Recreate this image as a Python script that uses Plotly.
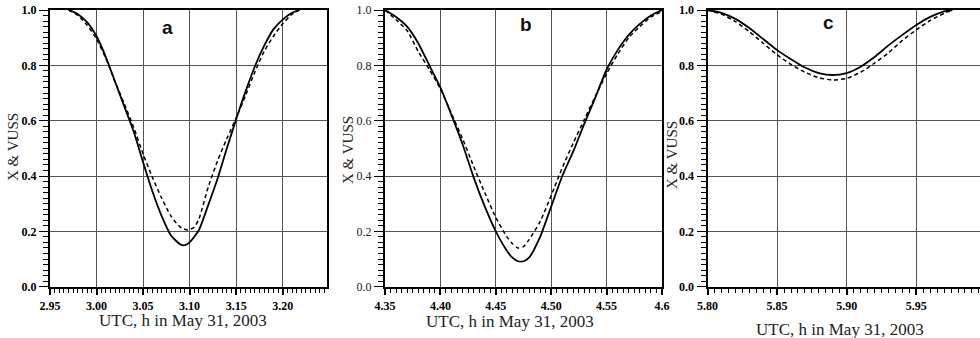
import plotly.graph_objects as go

# ---- data ----
a_x_solid = [2.970, 2.980, 2.990, 3.000, 3.010, 3.020, 3.030, 3.040, 3.050, 3.060, 3.070, 3.080,
             3.090, 3.095, 3.100, 3.110, 3.120, 3.130, 3.140, 3.150, 3.160, 3.170, 3.180, 3.190,
             3.200, 3.210, 3.218]
a_y_solid = [1.000, 0.985, 0.955, 0.905, 0.830, 0.740, 0.650, 0.560, 0.450, 0.345, 0.255, 0.185,
             0.153, 0.150, 0.160, 0.205, 0.295, 0.390, 0.500, 0.605, 0.705, 0.795, 0.870, 0.930,
             0.965, 0.990, 1.000]
a_x_dash = [2.970, 2.980, 2.990, 3.000, 3.010, 3.020, 3.030, 3.040, 3.050, 3.060, 3.070, 3.080,
            3.090, 3.098, 3.105, 3.110, 3.120, 3.130, 3.140, 3.150, 3.160, 3.170, 3.180, 3.190,
            3.200, 3.210, 3.218]
a_y_dash = [1.000, 0.980, 0.945, 0.895, 0.825, 0.740, 0.660, 0.575, 0.480, 0.395, 0.320, 0.255,
            0.215, 0.205, 0.215, 0.245, 0.360, 0.455, 0.535, 0.610, 0.690, 0.775, 0.850, 0.905,
            0.950, 0.985, 1.000]

b_x_solid = [4.350, 4.360, 4.370, 4.380, 4.390, 4.400, 4.410, 4.420, 4.430, 4.440, 4.450, 4.460,
             4.465, 4.470, 4.475, 4.480, 4.490, 4.500, 4.510, 4.520, 4.530, 4.540, 4.550, 4.560,
             4.570, 4.580, 4.590, 4.600]
b_y_solid = [1.000, 0.975, 0.940, 0.880, 0.800, 0.720, 0.620, 0.515, 0.395, 0.290, 0.200, 0.130,
             0.105, 0.092, 0.092, 0.105, 0.180, 0.290, 0.400, 0.490, 0.590, 0.685, 0.785, 0.855,
             0.910, 0.950, 0.980, 1.000]
b_x_dash = [4.350, 4.360, 4.370, 4.380, 4.390, 4.400, 4.410, 4.420, 4.430, 4.440, 4.450, 4.460,
            4.465, 4.470, 4.475, 4.480, 4.490, 4.500, 4.510, 4.520, 4.530, 4.540, 4.550, 4.560,
            4.570, 4.580, 4.590, 4.600]
b_y_dash = [1.000, 0.965, 0.925, 0.850, 0.785, 0.715, 0.625, 0.535, 0.435, 0.340, 0.250, 0.180,
            0.155, 0.140, 0.145, 0.170, 0.235, 0.330, 0.430, 0.520, 0.605, 0.690, 0.770, 0.840,
            0.900, 0.940, 0.975, 0.995]

c_x_solid = [5.800, 5.810, 5.820, 5.830, 5.840, 5.850, 5.860, 5.870, 5.880, 5.890, 5.900, 5.910,
             5.920, 5.930, 5.940, 5.950, 5.960, 5.970, 5.976]
c_y_solid = [1.000, 0.990, 0.968, 0.935, 0.895, 0.855, 0.822, 0.792, 0.772, 0.765, 0.772, 0.795,
             0.830, 0.872, 0.910, 0.946, 0.975, 0.995, 1.000]
c_x_dash = [5.800, 5.810, 5.820, 5.830, 5.840, 5.850, 5.860, 5.870, 5.880, 5.890, 5.900, 5.910,
            5.920, 5.930, 5.940, 5.950, 5.960, 5.970, 5.976]
c_y_dash = [1.000, 0.985, 0.958, 0.922, 0.880, 0.838, 0.803, 0.775, 0.755, 0.747, 0.753, 0.775,
            0.808, 0.845, 0.890, 0.928, 0.962, 0.988, 1.000]

x_tick_start = [2.95, 4.35, 5.80]
x_tick_step = 0.05
x_minor_step = 0.005
y_tick_step = 0.2
y_minor_step = 0.02
b_label_alias = {"4.60": "4.6"}

panel_letters = ["a", "b", "c"]
x_title = "UTC, h in May 31, 2003"
y_title = "X & VUSS"

# ---- figure ----
W, H = 980, 338
fig = go.Figure()

panels = [
    ("x", "y", a_x_solid, a_y_solid, a_x_dash, a_y_dash),
    ("x2", "y2", b_x_solid, b_y_solid, b_x_dash, b_y_dash),
    ("x3", "y3", c_x_solid, c_y_solid, c_x_dash, c_y_dash),
]
for xa, ya, xs, ys, xd, yd in panels:
    fig.add_trace(go.Scatter(x=xs, y=ys, mode="lines", xaxis=xa, yaxis=ya,
                             line=dict(color="black", width=1.8, shape="spline", smoothing=0.6),
                             showlegend=False))
    fig.add_trace(go.Scatter(x=xd, y=yd, mode="lines", xaxis=xa, yaxis=ya,
                             line=dict(color="black", width=1.5, dash="4px,3px", shape="spline", smoothing=0.6),
                             showlegend=False))

ydom = [1 - 286.7 / H, 1 - 10 / H]
xdoms = [[50 / W, 327 / W], [385 / W, 662 / W], [707.5 / W, 1.0]]
xranges = [[2.95, 3.2476], [4.35, 4.60], [5.80, 5.9958]]

tick_font_bold = dict(family="Liberation Serif", size=12, color="black", weight="bold")
tick_font_reg = dict(family="Liberation Serif", size=12, color="#222")

grid_col = "#555"
for i in range(3):
    sfx = "" if i == 0 else str(i + 1)
    xa = dict(
        domain=xdoms[i], range=xranges[i], anchor="y" + sfx, automargin=False,
        tickmode="linear", tick0=x_tick_start[i], dtick=x_tick_step, tickformat=".2f",
        tickfont=tick_font_bold,
        ticks="outside", ticklen=7, tickwidth=1.5, tickcolor="black",
        showline=True, linecolor="black", linewidth=1.5, mirror=True,
        showgrid=True, gridcolor=grid_col, gridwidth=1, zeroline=False,
        minor=dict(tick0=x_tick_start[i], dtick=x_minor_step, ticks="outside", ticklen=5,
                   tickwidth=1, tickcolor="black", showgrid=False),
        fixedrange=True,
    )
    if i == 1:
        xa["labelalias"] = b_label_alias
    fig.layout["xaxis" + sfx] = xa
    fig.layout["yaxis" + sfx] = dict(
        domain=ydom, range=[0, 1], anchor="x" + sfx, automargin=False,
        tickmode="linear", tick0=0, dtick=y_tick_step, tickformat=".1f",
        tickfont=(tick_font_reg if i == 1 else tick_font_bold),
        ticks="outside", ticklen=9, tickwidth=1.2, tickcolor="black",
        showline=True, linecolor="black", linewidth=2, mirror=(i != 2),
        showgrid=True, gridcolor=grid_col, gridwidth=1, zeroline=False,
        minor=dict(tick0=0, dtick=y_minor_step, ticks="outside", ticklen=5,
                   tickwidth=1, tickcolor="black", showgrid=False),
        fixedrange=True,
    )

annotations = []
# panel letters
letter_pos = [(3.0757, 0.935), (4.4777, 0.948), (5.8866, 0.955)]
for i, (lx, ly) in enumerate(letter_pos):
    sfx = "" if i == 0 else str(i + 1)
    annotations.append(dict(x=lx, y=ly, xref="x" + sfx, yref="y" + sfx, text=panel_letters[i],
                            showarrow=False, font=dict(family="Liberation Sans", size=19, color="#111", weight="bold")))
# axis titles
xt_pos = [(183 / W, 1 - 320 / H), (510 / W, 1 - 321 / H), (840 / W, 1 - 329 / H)]
yt_pos = [(13 / W, 1 - 147 / H), (348 / W, 1 - 150 / H), (672 / W, 1 - 155 / H)]
for (tx, ty) in xt_pos:
    annotations.append(dict(x=tx, y=ty, xref="paper", yref="paper", text=x_title, showarrow=False,
                            xanchor="center", yanchor="middle",
                            font=dict(family="Liberation Serif", size=17, color="#222")))
for (tx, ty) in yt_pos:
    annotations.append(dict(x=tx, y=ty, xref="paper", yref="paper", text=y_title, showarrow=False,
                            xanchor="center", yanchor="middle", textangle=-90,
                            font=dict(family="Liberation Serif", size=15, color="#222")))

fig.update_layout(
    template="none",
    width=W, height=H, margin=dict(l=0, r=0, t=0, b=0),
    paper_bgcolor="white", plot_bgcolor="white",
    annotations=annotations, showlegend=False,
)

fig.write_html("out.html", config={"displayModeBar": False},
               post_script="document.body.style.margin='0';document.body.style.overflow='hidden';")
